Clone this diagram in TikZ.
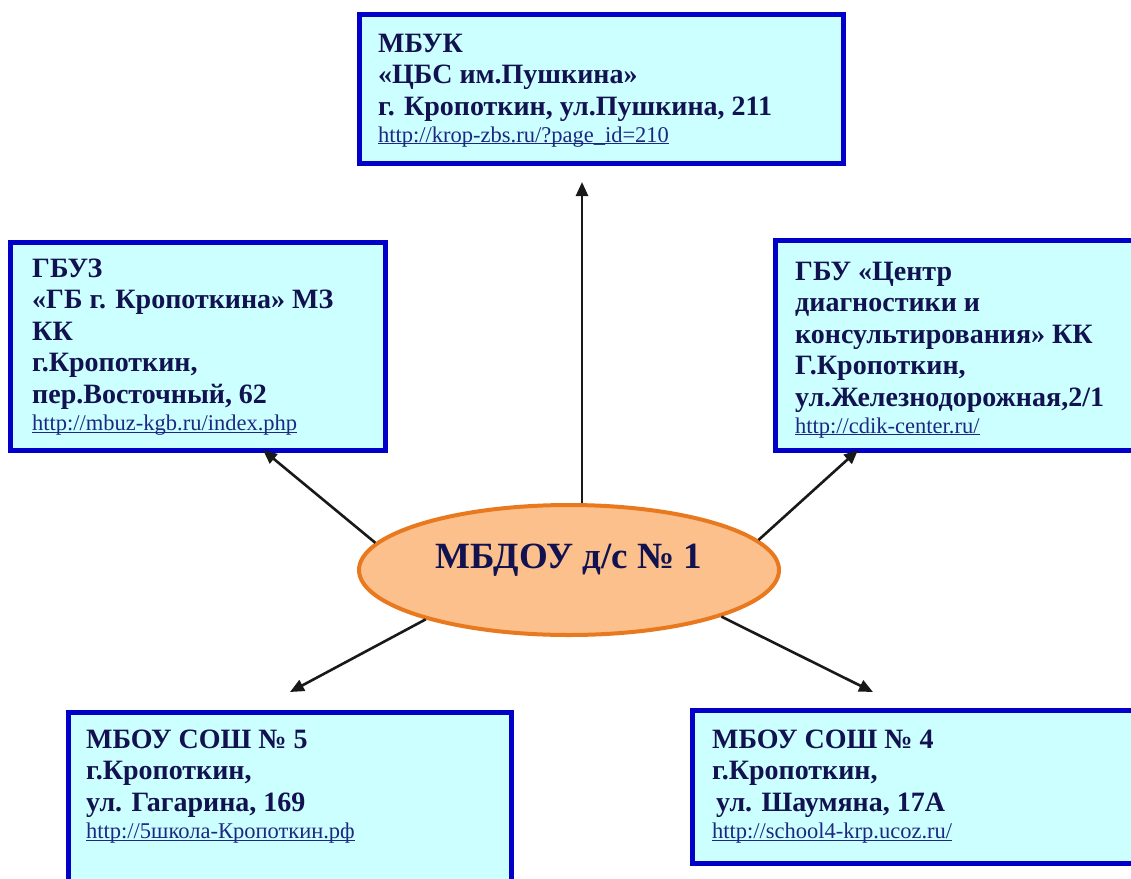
\documentclass[tikz,border=0pt]{standalone}
\usepackage{fontspec}
\setmainfont{Liberation Serif}
\usepackage{xcolor}
\usetikzlibrary{arrows.meta,shapes.geometric}

\definecolor{boxFill}{RGB}{204,255,255}
\definecolor{boxLine}{RGB}{0,0,200}
\definecolor{ovalFill}{RGB}{251,192,140}
\definecolor{ovalLine}{RGB}{232,121,30}
\definecolor{inkNavy}{RGB}{18,18,80}
\definecolor{linkBlue}{RGB}{30,40,130}

\newsavebox{\linkBox}
\newcommand{\weblink}[1]{{\fontsize{22.5}{26}\selectfont\mdseries\color{linkBlue}%
  \sbox{\linkBox}{#1}\rlap{\rule[-2.4pt]{\wd\linkBox}{1pt}}\usebox{\linkBox}}}

\tikzset{
  orgbox/.style={draw=boxLine, fill=boxFill, line width=5pt, inner sep=0pt, outer sep=0pt},
  orgtext/.style={anchor=north west, align=left, inner sep=0pt, text=inkNavy,
    font=\fontsize{28}{31.5}\selectfont\bfseries},
  arr/.style={line width=2.6pt, draw=black!90, -{Triangle[length=14pt,width=12pt]}}
}

\begin{document}
\begin{tikzpicture}[x=1pt,y=-1pt]
    \useasboundingbox (0,0) rectangle (1131,878);

    % Rahmen oben
    \node[orgbox, minimum width=484pt, minimum height=149pt] (mbuk) at (601,88.5) {};
    \node[orgtext] (mbukText) at (378,33.5) {МБУК\\
      «ЦБС им.Пушкина»\\
      г. Кропоткин, ул.Пушкина, 211\\[-4.5pt]
      \weblink{http://krop-zbs.ru/?page\_id=210}};

    % Rahmen links
    \node[orgbox, minimum width=375pt, minimum height=208pt] (gbuz) at (197.5,346) {};
    \node[orgtext] (gbuzText) at (32,258.5) {ГБУЗ\\
      «ГБ г. Кропоткина» МЗ\\
      КК\\
      г.Кропоткин,\\
      пер.Восточный, 62\\[-4.5pt]
      \weblink{http://mbuz-kgb.ru/index.php}};

    % Rahmen rechts
    \node[orgbox, minimum width=363pt, minimum height=210pt] (gbu) at (956.5,345) {};
    \node[orgtext] (gbuText) at (795,261.5) {ГБУ «Центр\\
      диагностики и\\
      консультирования» КК\\
      Г.Кропоткин,\\
      ул.Железнодорожная,2/1\\[-4.5pt]
      \weblink{http://cdik-center.ru/}};

    % Rahmen unten links
    \node[orgbox, minimum width=443pt, minimum height=181pt] (sosh5) at (289.5,802.5) {};
    \node[orgtext] (sosh5Text) at (86,729.5) {МБОУ СОШ № 5\\
      г.Кропоткин,\\
      ул. Гагарина, 169\\[-4.5pt]
      \weblink{http://5школа-Кропоткин.рф}};

    % Rahmen unten rechts
    \node[orgbox, minimum width=446pt, minimum height=153pt] (sosh4) at (915,786.5) {};
    \node[orgtext] (sosh4Text) at (712,729.5) {МБОУ СОШ № 4\\
      г.Кропоткин,\\
      \hspace{4pt}ул. Шаумяна, 17А\\[-4.5pt]
      \weblink{http://school4-krp.ucoz.ru/}};

    % Oval
    \node[ellipse, draw=ovalLine, fill=ovalFill, line width=4pt, minimum width=420pt,
      minimum height=130pt, inner sep=0pt] (mbdou) at (569,570) {};
    \node[anchor=base, inner sep=0pt, text=inkNavy, font=\fontsize{37}{42}\selectfont\bfseries]
      (mbdouText) at (569,568) {МБДОУ д/с № 1};

    % Pfeile
    \coordinate (tipMbuk) at (582,182);
    \coordinate (tipGbuz) at (263,450);
    \coordinate (tipGbu) at (858,450);
    \coordinate (tipSosh5) at (290,692);
    \coordinate (tipSosh4) at (873,692);
    \draw[arr] (tipMbuk |- mbdou.north) -- (tipMbuk);
    \draw[arr] (mbdou.172) -- (tipGbuz);
    \draw[arr] (mbdou.9) -- (tipGbu);
    \draw[arr] (mbdou.199) -- (tipSosh5);
    \draw[arr] (mbdou.343) -- (tipSosh4);
\end{tikzpicture}
\end{document}
